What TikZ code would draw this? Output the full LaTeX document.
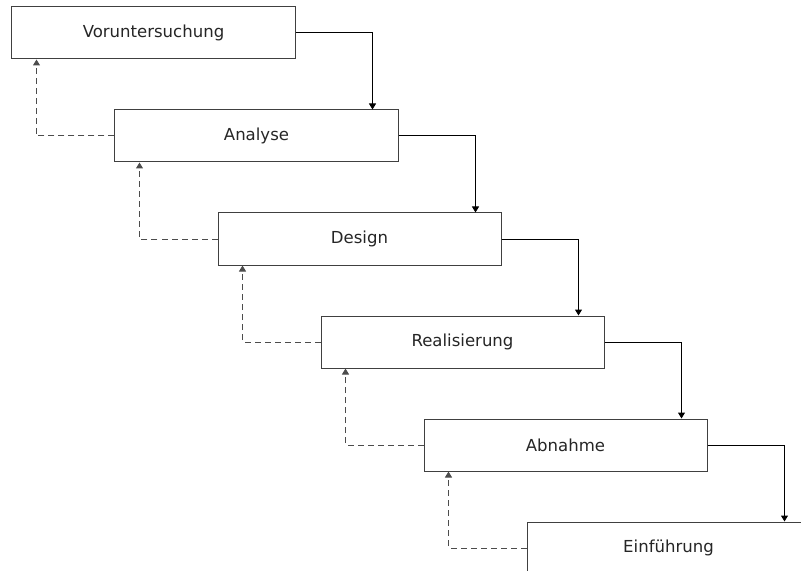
\documentclass[tikz,border=0pt]{standalone}
\usepackage{fontspec}
\setmainfont{DejaVu Sans}
\usetikzlibrary{arrows.meta,calc}
\begin{document}
\begin{tikzpicture}[x=1bp,y=-1bp,
  phase/.style={draw=black!75,line width=1bp,fill=white,minimum width=283bp,
    minimum height=52bp,inner sep=0pt,font=\fontsize{16.6}{20}\selectfont,text=black!85},
  flow/.style={draw=black,line width=1bp,-{Triangle[width=7bp,length=6bp]}},
  back/.style={draw=black!70,line width=1bp,dash pattern=on 6bp off 4bp,
    -{Triangle[width=7bp,length=6bp]}}]
  \useasboundingbox (0,0) rectangle (801,571);
  \clip (0,0) rectangle (801,571);
  % six stacked phases, each shifted 103 to the right and down
  \node[phase] (p0) at (153.5,33) {Voruntersuchung};
  \node[phase] (p1) at (256.5,136) {Analyse};
  \node[phase] (p2) at (359.5,239) {Design};
  \node[phase] (p3) at (462.5,342) {Realisierung};
  \node[phase] (p4) at (565.5,445) {Abnahme};
  \node[phase] (p5) at (668.5,548) {Einführung};
  % forward flow and feedback between consecutive phases
  \foreach \a/\b in {p0/p1,p1/p2,p2/p3,p3/p4,p4/p5}{
    \draw[flow] (\a.east) -| ($(\b.north west)+(258,0)$);
    \draw[back] (\b.west) -| ($(\a.south west)+(25,0)$);
  }
\end{tikzpicture}
\end{document}
